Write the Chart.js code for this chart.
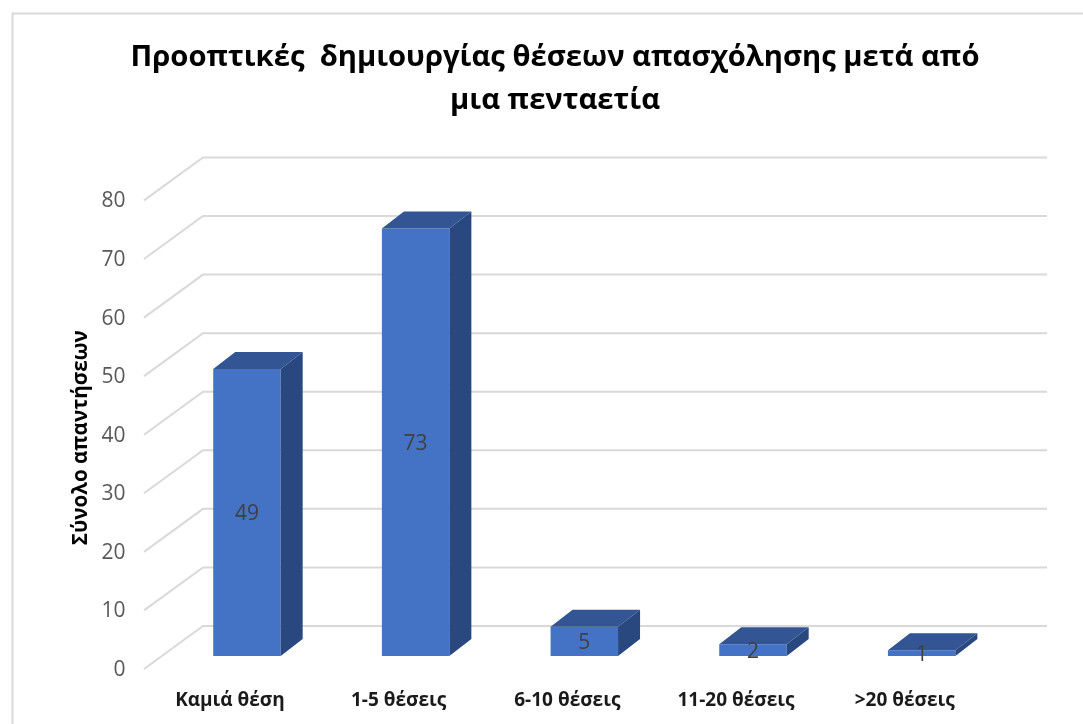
<!DOCTYPE html>
<html lang="el">
<head>
    <meta charset="UTF-8">
    <title>Προοπτικές δημιουργίας θέσεων απασχόλησης</title>
    <script src="https://cdn.jsdelivr.net/npm/chart.js"></script>
    <style>
        html, body { margin: 0; padding: 0; background: #fff; overflow: hidden; }
        #wrap { position: relative; width: 1083px; height: 724px; }
    </style>
</head>
<body>
    <div id="wrap"><canvas id="grafico"></canvas></div>

    <script>
        const categories = ["Καμιά θέση", "1-5 θέσεις", "6-10 θέσεις", "11-20 θέσεις", ">20 θέσεις"];
        const answers = [49, 73, 5, 2, 1];
        const titleLines = ["Προοπτικές  δημιουργίας θέσεων απασχόλησης μετά από", "μια πενταετία"];
        const yAxisTitle = "Σύνολο απαντήσεων";

        const FONT = "'Open Sans', sans-serif";
        const GRID = "#d9d9d9";

        // Fake 3D look, everything hangs off the real scales and bars
        const box3d = {
            id: "box3d",
            beforeDraw(chart) {
                const ctx = chart.ctx;
                ctx.save();
                ctx.strokeStyle = GRID;
                ctx.lineWidth = 2;
                ctx.beginPath();
                ctx.moveTo(12.5, 724);
                ctx.lineTo(12.5, 13.5);
                ctx.lineTo(1083, 13.5);
                ctx.stroke();
                ctx.restore();
            },
            beforeDatasetsDraw(chart) {
                const ctx = chart.ctx;
                const y = chart.scales.y;
                ctx.save();
                ctx.strokeStyle = GRID;
                ctx.lineWidth = 2;
                y.ticks.forEach(t => {
                    const py = y.getPixelForValue(t.value);
                    ctx.beginPath();
                    ctx.moveTo(144, py + 13);
                    ctx.lineTo(203, py - 30);
                    ctx.lineTo(1047, py - 30);
                    ctx.stroke();
                });
                ctx.restore();
            },
            afterDatasetsDraw(chart) {
                const ctx = chart.ctx;
                const dx = 22, dy = 17;
                const bars = chart.getDatasetMeta(0).data;
                ctx.save();
                bars.forEach((bar, i) => {
                    const left = bar.x - bar.width / 2;
                    const right = bar.x + bar.width / 2;
                    // top face
                    ctx.fillStyle = "#335593";
                    ctx.beginPath();
                    ctx.moveTo(left, bar.y);
                    ctx.lineTo(left + dx, bar.y - dy);
                    ctx.lineTo(right + dx, bar.y - dy);
                    ctx.lineTo(right, bar.y);
                    ctx.fill();
                    // side face
                    ctx.fillStyle = "#2a4880";
                    ctx.beginPath();
                    ctx.moveTo(right, bar.y);
                    ctx.lineTo(right + dx, bar.y - dy);
                    ctx.lineTo(right + dx, bar.base - dy);
                    ctx.lineTo(right, bar.base);
                    ctx.fill();
                });
                // value labels
                ctx.fillStyle = "#404040";
                ctx.font = "21px " + FONT;
                ctx.textAlign = "center";
                ctx.textBaseline = "middle";
                bars.forEach((bar, i) => {
                    ctx.fillText(answers[i], bar.x, (bar.y + bar.base) / 2 + 2);
                });
                ctx.restore();
            }
        };

        // Title is centred on the frame, not on the plot
        const shiftTitle = {
            id: "shiftTitle",
            afterLayout(chart) {
                chart.titleBlock.left += 21;
                chart.titleBlock.right += 21;
            }
        };

        new Chart(document.getElementById("grafico"), {
            type: "bar",
            data: {
                labels: categories,
                datasets: [{
                    data: answers,
                    backgroundColor: "#4472c4",
                    barPercentage: 0.4,
                    categoryPercentage: 1
                }]
            },
            options: {
                responsive: true,
                maintainAspectRatio: false,
                animation: false,
                layout: { padding: { left: 62, right: 77, top: 36, bottom: 0 } },
                plugins: {
                    legend: { display: false },
                    tooltip: { enabled: false },
                    title: {
                        display: true,
                        text: titleLines,
                        color: "#000",
                        font: { family: FONT, size: 29.2, weight: "bold", lineHeight: 1.48 },
                        padding: { top: 0, bottom: 65 }
                    }
                },
                scales: {
                    x: {
                        afterFit(scale) { scale.height = 68; },
                        grid: { display: false },
                        border: { display: false },
                        ticks: {
                            color: "#1a1a1a",
                            font: { family: FONT, size: 19, weight: "bold" },
                            padding: 25,
                            labelOffset: -17,
                            maxRotation: 0
                        }
                    },
                    y: {
                        min: 0,
                        max: 80,
                        afterFit(scale) { scale.width = 100.6; },
                        grid: { display: false, drawTicks: false },
                        border: { display: false },
                        ticks: {
                            stepSize: 10,
                            color: "#595959",
                            font: { family: FONT, size: 21 },
                            padding: 37,
                            labelOffset: 14
                        },
                        title: {
                            display: true,
                            text: yAxisTitle + " ".repeat(6),
                            color: "#000",
                            font: { family: FONT, size: 20.6, weight: "bold" },
                            padding: { top: 7, bottom: 0 }
                        }
                    }
                }
            },
            plugins: [box3d, shiftTitle]
        });
    </script>
</body>
</html>
